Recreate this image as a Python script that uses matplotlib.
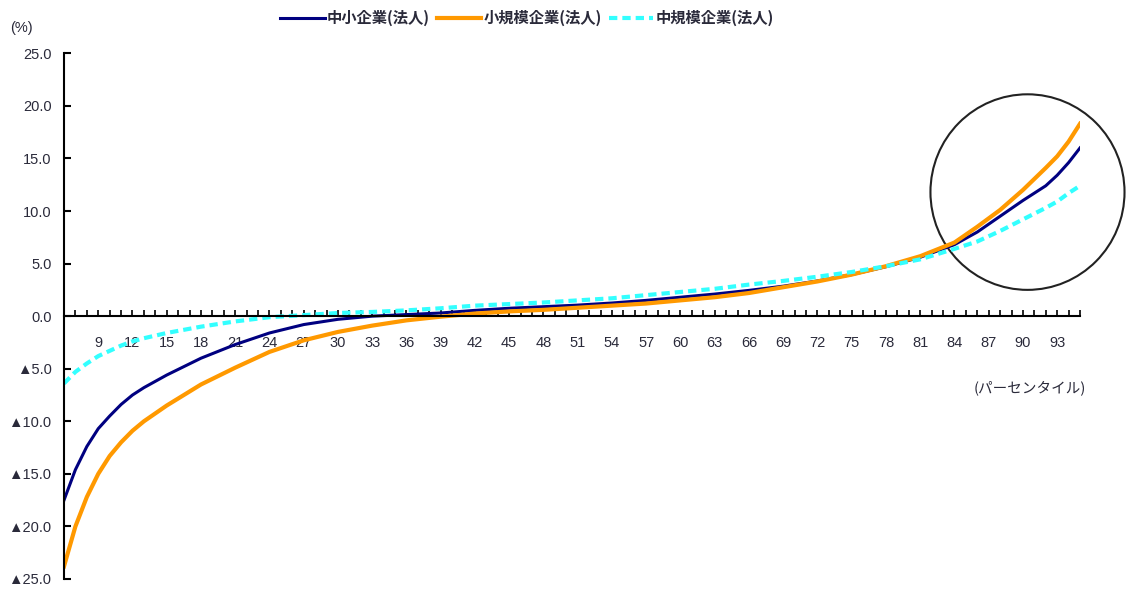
import matplotlib
matplotlib.use('Agg')
import matplotlib.pyplot as plt
from matplotlib import ticker
from matplotlib.patches import Ellipse

plt.rcParams['font.family'] = ['Liberation Sans', 'Noto Sans CJK JP', 'DejaVu Sans']

# percentiles
pct = [6, 7, 8, 9, 10, 11, 12, 13, 15, 18, 21, 24, 27, 30, 33, 36, 39, 42, 45, 48,
       51, 54, 57, 60, 63, 66, 69, 72, 75, 78, 81, 84, 86, 88, 90, 92, 93, 94, 95]

# 中小企業(法人)
sme = [-17.5, -14.6, -12.4, -10.7, -9.5, -8.4, -7.5, -6.8, -5.6, -4.0, -2.7, -1.6, -0.8,
       -0.3, 0.0, 0.15, 0.3, 0.55, 0.75, 0.9, 1.05, 1.25, 1.5, 1.8, 2.1, 2.45, 2.85, 3.35,
       3.95, 4.7, 5.6, 6.8, 8.0, 9.5, 11.0, 12.4, 13.4, 14.6, 16.0]
# 小規模企業(法人)
small = [-23.8, -20.0, -17.2, -15.0, -13.3, -12.0, -10.9, -10.0, -8.5, -6.5, -4.9, -3.4,
         -2.3, -1.5, -0.9, -0.4, -0.05, 0.25, 0.45, 0.6, 0.8, 1.0, 1.2, 1.5, 1.8, 2.2,
         2.75, 3.3, 3.95, 4.75, 5.7, 7.0, 8.5, 10.1, 12.0, 14.1, 15.2, 16.6, 18.3]
# 中規模企業(法人)
medium = [-6.4, -5.3, -4.5, -3.8, -3.3, -2.8, -2.4, -2.1, -1.6, -1.0, -0.5, -0.1, 0.1,
          0.3, 0.4, 0.55, 0.75, 1.0, 1.15, 1.3, 1.5, 1.7, 2.0, 2.3, 2.6, 3.0, 3.35, 3.75,
          4.2, 4.75, 5.4, 6.4, 7.1, 8.1, 9.2, 10.3, 10.9, 11.7, 12.4]

labels = ['中小企業(法人)', '小規模企業(法人)', '中規模企業(法人)']
tick_col = '#2a2a3a'

fig = plt.figure(figsize=(11.26, 5.89), dpi=100)
ax = fig.add_axes([64 / 1126, 10 / 589, 1016 / 1126, 525.7 / 589])

ax.plot(pct, sme, color='#000080', lw=2.2, label=labels[0])
ax.plot(pct, small, color='#FF9900', lw=3.0, label=labels[1])
ax.plot(pct, medium, color='#33FFFF', lw=3.0, ls=(0, (2, 1.2)), label=labels[2])

ax.add_patch(Ellipse((90.4, 11.8), width=17.0, height=18.6, fill=False,
                     edgecolor='#222222', lw=1.5, clip_on=False))

ax.set_xlim(6, 95)
ax.set_ylim(-25, 25)

for s in ['top', 'right']:
    ax.spines[s].set_visible(False)
ax.spines['bottom'].set_position(('data', 0))
ax.spines['bottom'].set_linewidth(1.5)
ax.spines['left'].set_linewidth(1.5)

ax.xaxis.set_major_locator(ticker.FixedLocator(range(9, 94, 3)))
ax.xaxis.set_minor_locator(ticker.MultipleLocator(1))
ax.tick_params(axis='x', which='both', direction='in', length=4, width=1.2)
ax.tick_params(axis='x', which='major', pad=14, labelsize=10.5, labelcolor=tick_col)

ax.yaxis.set_major_locator(ticker.MultipleLocator(5))
ax.yaxis.set_major_formatter(ticker.FuncFormatter(
    lambda v, pos: ('▲%.1f' % -v) if v < 0 else '%.1f' % abs(v)))
ax.tick_params(axis='y', direction='in', length=5, width=1.5, pad=9,
               labelsize=10.5, labelcolor=tick_col)

fig.text(10 / 1126, 1 - 28 / 589, '(%)', fontsize=10.5, color=tick_col, va='center')
fig.text(1086 / 1126, 1 - 388 / 589, '(パーセンタイル)', fontsize=10.5, color=tick_col,
         va='center', ha='right', family=['Noto Sans CJK JP', 'DejaVu Sans'])

fig.legend(loc='center', bbox_to_anchor=(527 / 1126, 1 - 18 / 589), ncol=3, frameon=False,
           handlelength=2.9, handletextpad=0.15, columnspacing=0.45,
           prop={'family': ['Noto Sans CJK JP', 'DejaVu Sans'], 'size': 11, 'weight': 'bold'},
           labelcolor=tick_col)

fig.savefig('out.png', dpi=100)
